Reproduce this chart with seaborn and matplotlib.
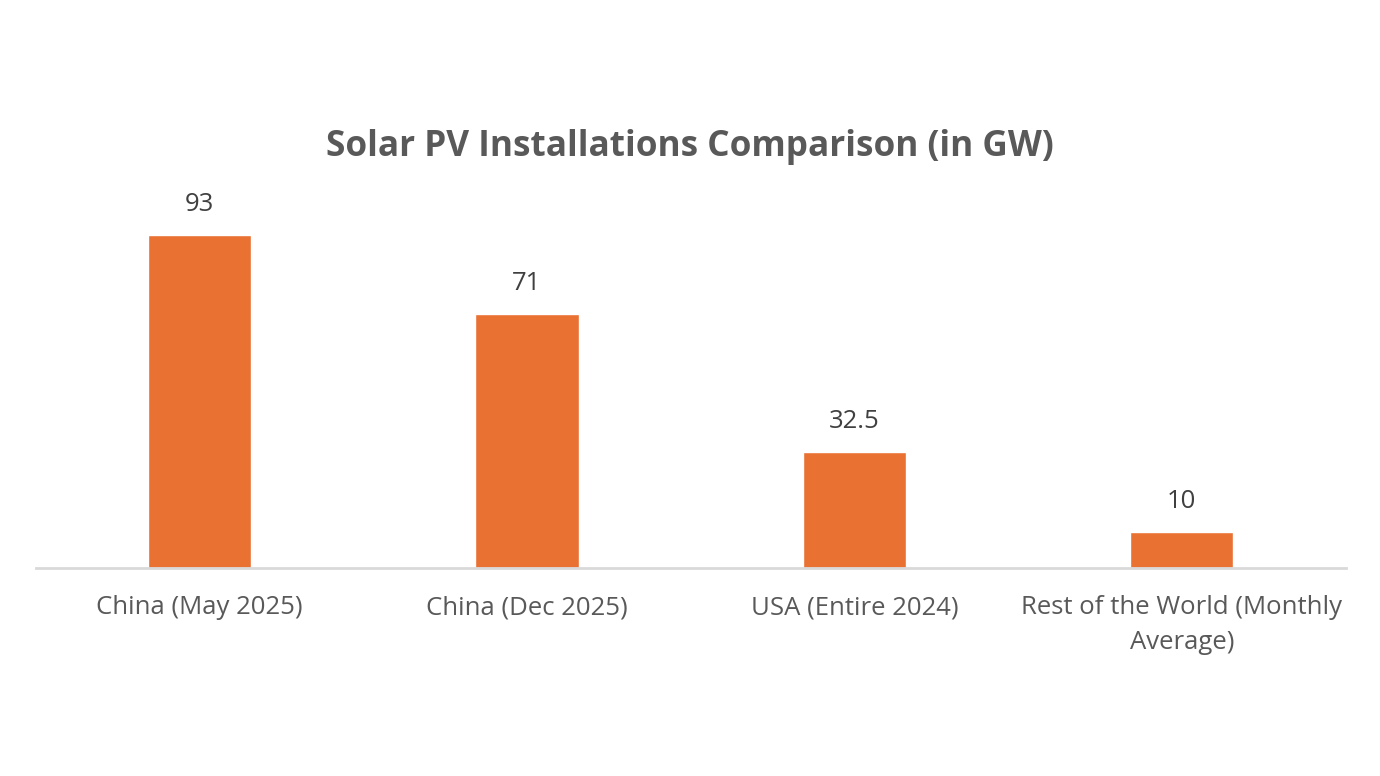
import matplotlib
matplotlib.use("Agg")
import matplotlib.pyplot as plt
import seaborn as sns
import pandas as pd

# データ
categories = ["China (May 2025)", "China (Dec 2025)", "USA (Entire 2024)",
              "Rest of the World (Monthly\nAverage)"]
values = [93, 71, 32.5, 10]
value_labels = ["93", "71", "32.5", "10"]

df = pd.DataFrame({"category": categories, "gw": values})

sns.set_style("white")
plt.rcParams["font.family"] = ["Open Sans", "DejaVu Sans"]

fig = plt.figure(figsize=(13.8, 7.76), dpi=100)
ax = fig.add_axes([0.026, 0.268, 0.949, 0.461])

sns.barplot(data=df, x="category", y="gw", color="#E97132", saturation=1,
            width=0.315, ax=ax)

ax.set_ylim(0, 100)
ax.bar_label(ax.containers[0], labels=value_labels, padding=13,
             fontsize=18.5, color="#404040")

sns.despine(ax=ax, left=True)
ax.spines["bottom"].set_color("#D9D9D9")
ax.spines["bottom"].set_linewidth(2)
ax.set_yticks([])
ax.set_xlabel("")
ax.set_ylabel("")
ax.tick_params(axis="x", length=0, pad=19.5, labelsize=18.5, labelcolor="#595959")
for t in ax.get_xticklabels():
    t.set_linespacing(1.5)

fig.text(0.5, 0.810, "Solar PV Installations Comparison (in GW)",
         ha="center", va="center", fontsize=25.3, fontweight="bold",
         color="#595959")

fig.savefig("out.png", dpi=100)
